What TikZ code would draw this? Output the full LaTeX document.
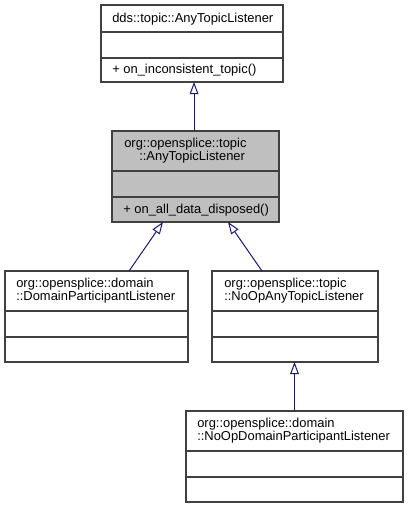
\documentclass[tikz,border=0pt]{standalone}
\usepackage{fontspec}
\setmainfont{Liberation Sans}
\usetikzlibrary{arrows.meta}

\definecolor{edgeblue}{HTML}{191970}
\definecolor{boxgray}{HTML}{BFBFBF}
\definecolor{boxline}{HTML}{404040}

\tikzset{
  cls/.style={draw=boxline, line width=0.9pt, fill=white, inner sep=0pt, outer sep=0pt},
  sep/.style={draw=boxline, line width=0.9pt},
  txt/.style={anchor=base west, inner sep=0pt, font=\fontsize{9.7}{11}\selectfont},
  inherits/.style={draw=edgeblue, line width=0.75pt, -{Triangle[length=9pt, width=6.5pt, fill=white]}},
}

\begin{document}
\begin{tikzpicture}[x=0.75pt, y=-0.75pt]
\useasboundingbox (0,0) rectangle (409,508);

% top: dds base class
\node[cls, minimum width=136.5pt, minimum height=57.75pt] (dds) at (192,43.5) {};
\draw[sep] ([yshift=-20.25pt]dds.north west) -- ([yshift=-20.25pt]dds.north east);
\draw[sep] ([yshift=-39.75pt]dds.north west) -- ([yshift=-39.75pt]dds.north east);
\node[txt] (dds-name) at (112,22) {dds::topic::AnyTopicListener};
\node[txt] (dds-op) at (112,73) {+ on\_inconsistent\_topic()};

% middle: the class itself (grey)
\node[cls, fill=boxgray, minimum width=125.25pt, minimum height=68.25pt] (anytopic) at (195.5,176.5) {};
\node[txt] (anytopic-ns) at (124,147) {org::opensplice::topic};
\node[txt] (anytopic-name) at (139,160) {::AnyTopicListener};
\node[txt] (anytopic-op) at (123,213) {+ on\_all\_data\_disposed()};

% lower level: derived classes
\node[cls, minimum width=137.25pt, minimum height=68.25pt] (dpl) at (96.5,316.5) {};
\node[txt] (dpl-ns) at (16,287) {org::opensplice::domain};
\node[txt] (dpl-name) at (16,300) {::DomainParticipantListener};

\node[cls, minimum width=124.5pt, minimum height=68.25pt] (noop) at (295,316.5) {};
\node[txt] (noop-ns) at (224,287) {org::opensplice::topic};
\node[txt] (noop-name) at (224,300) {::NoOpAnyTopicListener};

% bottom
\node[cls, minimum width=162.75pt, minimum height=68.25pt] (noopdpl) at (294.5,456.5) {};
\node[txt] (noopdpl-ns) at (197,427) {org::opensplice::domain};
\node[txt] (noopdpl-name) at (197,440) {::NoOpDomainParticipantListener};

% attribute / operation separators
\foreach \n in {anytopic,dpl,noop,noopdpl} {
  \draw[sep] ([yshift=-30pt]\n.north west) -- ([yshift=-30pt]\n.north east);
  \draw[sep] ([yshift=-49.5pt]\n.north west) -- ([yshift=-49.5pt]\n.north east);
}

% inheritance
\draw[inherits] ([xshift=-1.1pt]anytopic.north) -- ([xshift=-1.1pt]anytopic.north |- dds.south);
\draw[inherits] ([xshift=24.4pt]dpl.north) -- ([xshift=-24.4pt]anytopic.south);
\draw[inherits] ([xshift=-24.75pt]noop.north) -- ([xshift=24.4pt]anytopic.south);
\draw[inherits] (noopdpl.north) -- (noopdpl.north |- noop.south);

\end{tikzpicture}
\end{document}
